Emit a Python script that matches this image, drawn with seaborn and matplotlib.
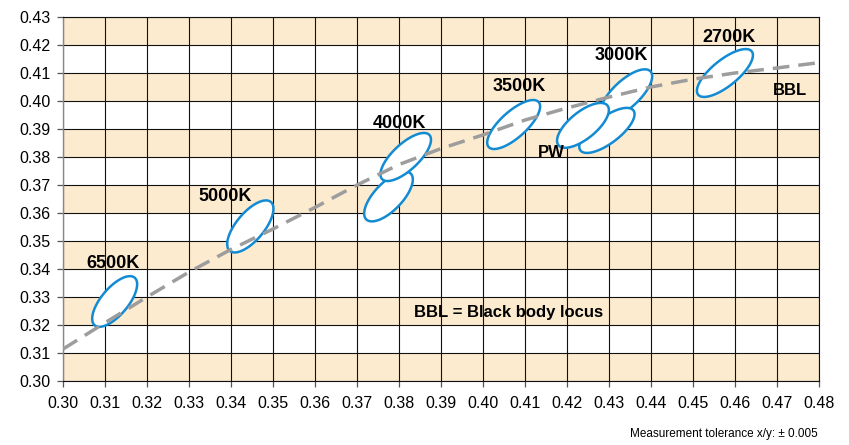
"""Chromaticity tolerance ellipses along the black body locus."""

import matplotlib.pyplot as plt
import numpy as np
import seaborn as sns

# black body locus
BBL_X = [0.30, 0.31, 0.32, 0.33, 0.34, 0.35, 0.36, 0.37, 0.38, 0.39,
         0.40, 0.41, 0.42, 0.43, 0.44, 0.45, 0.46, 0.47, 0.48]
BBL_Y = [0.3114, 0.3208, 0.3300, 0.3389, 0.3470, 0.3543, 0.3620, 0.3700,
         0.3773, 0.3830, 0.3879, 0.3932, 0.3975, 0.4014, 0.4050, 0.4078,
         0.4100, 0.4118, 0.4137]

# tolerance ellipses: centre, semi axes (x units) and tilt in degrees
ELLIPSE_NAMES = ["6500K", "5000K", "4000K low", "4000K", "3500K",
                 "3000K", "PW right", "PW left", "2700K"]
ELLIPSE_CX = [0.3123, 0.3446, 0.3775, 0.3816, 0.4073, 0.4341, 0.4295, 0.4238, 0.4576]
ELLIPSE_CY = [0.3284, 0.3552, 0.3659, 0.3800, 0.3916, 0.4025, 0.3895, 0.3913, 0.4100]
ELLIPSE_MAJOR = [0.0074, 0.0076, 0.0076, 0.0077, 0.0080, 0.0079, 0.0079, 0.0075, 0.0082]
ELLIPSE_MINOR = [0.0032, 0.0033, 0.0033, 0.0031, 0.0031, 0.0032, 0.0031, 0.0032, 0.0031]
ELLIPSE_ANGLE = [50, 50, 46, 43, 42, 43, 37, 39, 39]

LABELS = ["6500K", "5000K", "4000K", "3500K", "3000K", "2700K"]
LABEL_X = [0.3119, 0.3386, 0.3801, 0.4086, 0.4330, 0.4586]
LABEL_Y = [0.3404, 0.3643, 0.3904, 0.4036, 0.4146, 0.4211]

X_TICKS = np.round(np.arange(0.30, 0.4801, 0.01), 2)
Y_TICKS = np.round(np.arange(0.30, 0.4301, 0.01), 2)

BLUE = "#138bd3"
BEIGE = "#fdebd0"
GREY = "#9d9d9d"


def ellipse_xy(ax, cx, cy, major, minor, angle):
    """Outline of an ellipse that looks tilted by `angle` on screen."""
    trans = ax.transData
    px_x = trans.transform((1, 0))[0] - trans.transform((0, 0))[0]
    px_y = trans.transform((0, 1))[1] - trans.transform((0, 0))[1]
    ratio = px_x / px_y
    t = np.linspace(0, 2 * np.pi, 240)
    th = np.radians(angle)
    dx = major * np.cos(t) * np.cos(th) - minor * np.sin(t) * np.sin(th)
    dy = major * np.cos(t) * np.sin(th) + minor * np.sin(t) * np.cos(th)
    return cx + dx, cy + dy * ratio


def main() -> None:
    sns.set_theme(style="white")
    plt.rcParams["font.family"] = ["Liberation Sans", "DejaVu Sans"]
    plt.rcParams["text.color"] = "black"

    fig = plt.figure(figsize=(8.49, 4.45), dpi=100)
    ax = fig.add_axes([63 / 849, 64 / 445, 756 / 849, 364 / 445])
    ax.set_xlim(0.30, 0.48)
    ax.set_ylim(0.30, 0.43)

    # alternating bands
    for i, low in enumerate(Y_TICKS[:-1]):
        if i % 2 == 0:
            ax.axhspan(low, Y_TICKS[i + 1], color=BEIGE, lw=0, zorder=0)

    ax.set_xticks(X_TICKS)
    ax.set_yticks(Y_TICKS)
    ax.set_xticklabels([f"{v:.2f}" for v in X_TICKS])
    ax.set_yticklabels([f"{v:.2f}" for v in Y_TICKS])
    ax.grid(True, color="#111111", lw=0.8, zorder=1)
    ax.set_axisbelow(True)
    ax.tick_params(axis="both", labelsize=11.5, length=4, width=0.9,
                   color="#555555", labelcolor="black")
    ax.tick_params(axis="x", pad=7, bottom=True)
    ax.tick_params(axis="y", pad=5, left=True)
    for side in ("top", "right", "bottom"):
        ax.spines[side].set_color("#111111")
        ax.spines[side].set_linewidth(0.8)
    ax.spines["left"].set_color("#888888")
    ax.spines["left"].set_linewidth(1.0)

    for k in range(len(ELLIPSE_NAMES)):
        ex, ey = ellipse_xy(ax, ELLIPSE_CX[k], ELLIPSE_CY[k],
                            ELLIPSE_MAJOR[k], ELLIPSE_MINOR[k], ELLIPSE_ANGLE[k])
        ax.fill(ex, ey, facecolor="white", edgecolor=BLUE, lw=1.8,
                zorder=3 + k)

    sns.lineplot(x=BBL_X, y=BBL_Y, ax=ax, color=GREY, lw=2.5,
                 linestyle=(0, (4.8, 2.6)), zorder=20)

    for text, x, y in zip(LABELS, LABEL_X, LABEL_Y):
        ax.text(x, y, text, ha="center", va="baseline", fontsize=13,
                fontweight="bold", color="black", zorder=25)
    ax.text(0.4731, 0.4021, "BBL", ha="center", va="baseline", fontsize=12,
            fontweight="bold", color="black", zorder=25)
    ax.text(0.4162, 0.3800, "PW", ha="center", va="baseline", fontsize=12,
            fontweight="bold", color="black", zorder=25)
    ax.text(0.4061, 0.3229, "BBL = Black body locus", ha="center",
            va="baseline", fontsize=12, fontweight="bold", color="black",
            zorder=25)

    fig.text(818 / 849, 8 / 445, "Measurement tolerance x/y: \u00b1 0.005",
             ha="right", va="baseline", fontsize=8.5, color="black")

    fig.savefig("out.png", dpi=100)
    plt.close(fig)


if __name__ == "__main__":
    main()
